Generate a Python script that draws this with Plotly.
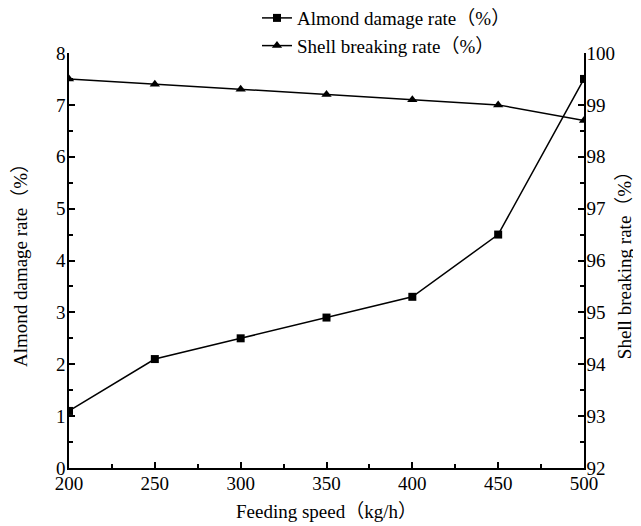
import plotly.graph_objects as go

feeding_speed = [200, 250, 300, 350, 400, 450, 500]
almond_damage = [1.1, 2.1, 2.5, 2.9, 3.3, 4.5, 7.5]
shell_breaking = [99.5, 99.4, 99.3, 99.2, 99.1, 99.0, 98.7]

FONT = "Liberation Serif, Times New Roman, Noto Sans CJK SC, serif"
FS = 19

fig = go.Figure()
fig.add_trace(go.Scatter(
    x=feeding_speed, y=almond_damage, name="Almond damage rate（%）",
    mode="lines+markers", line=dict(color="black", width=1.5),
    marker=dict(symbol="square", size=8, color="black"), yaxis="y"))
fig.add_trace(go.Scatter(
    x=feeding_speed, y=shell_breaking, name="Shell breaking rate（%）",
    mode="lines+markers", line=dict(color="black", width=1.5),
    marker=dict(symbol="triangle-up", size=9, color="black"), yaxis="y2"))

axis_common = dict(showgrid=False, zeroline=False, showline=True, linecolor="black",
                   linewidth=1.5, ticks="inside", ticklen=6, tickwidth=1.5, tickcolor="black",
                   automargin=False,
                   tickfont=dict(family=FONT, size=FS, color="black"))
minor_common = dict(ticks="inside", ticklen=4, tickwidth=1.5, tickcolor="black")

fig.update_layout(
    width=641, height=526,
    margin=dict(l=61, r=65, t=45, b=66, autoexpand=False),
    paper_bgcolor="white", plot_bgcolor="white",
    font=dict(family=FONT, size=FS, color="black"),
    xaxis=dict(range=[200, 500], tickvals=[200, 250, 300, 350, 400, 450, 500],
               minor=dict(dtick=25, tick0=200, **minor_common),
               ticklabelstandoff=-3,
               title=dict(text="Feeding speed（kg/h）", font=dict(family=FONT, size=FS), standoff=12),
               **axis_common),
    yaxis=dict(range=[0, 8], dtick=1, tick0=0,
               minor=dict(dtick=0.5, **minor_common),
               ticklabelstandoff=-2,
               title=dict(text="Almond damage rate（%）", font=dict(family=FONT, size=FS), standoff=23),
               **axis_common),
    yaxis2=dict(range=[92, 100], dtick=1, tick0=92, overlaying="y", side="right",
                minor=dict(dtick=0.5, **minor_common),
                ticklabelstandoff=-3,
                title=dict(text="Shell breaking rate（%）", font=dict(family=FONT, size=FS), standoff=4),
                **axis_common),
    legend=dict(x=0.365, y=1.13, xanchor="left", yanchor="top",
                font=dict(family=FONT, size=FS), bgcolor="rgba(0,0,0,0)",
                tracegroupgap=0),
    showlegend=True,
)

fig.write_html("out.html")
